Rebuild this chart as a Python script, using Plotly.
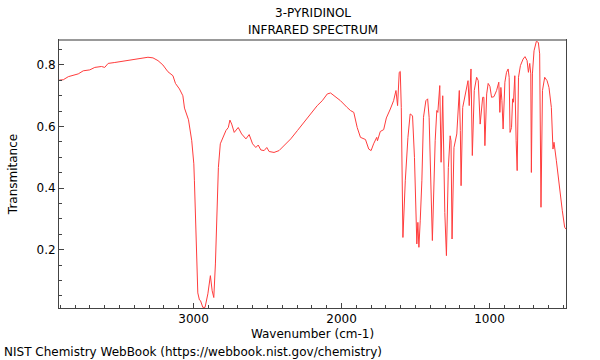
import plotly.graph_objects as go

wavenumber = [3907, 3880, 3846, 3812, 3779, 3745, 3701, 3667, 3622, 3600, 3577, 3532, 3454, 3409, 3353, 3308,
              3274, 3240, 3207, 3173, 3139, 3122, 3095, 3072, 3061, 3034, 3012, 2998, 2994, 2983, 2971, 2960,
              2953, 2937, 2922, 2903, 2886, 2874, 2863, 2852, 2841, 2832, 2819, 2803, 2781, 2765, 2754, 2742,
              2725, 2698, 2675, 2646, 2624, 2601, 2579, 2563, 2545, 2523, 2505, 2489, 2456, 2422, 2388, 2343,
              2298, 2254, 2209, 2164, 2130, 2096, 2074, 2040, 2007, 1962, 1939, 1917, 1894, 1872, 1838, 1816,
              1800, 1783, 1762, 1757, 1738, 1715, 1697, 1670, 1648, 1632, 1621, 1610, 1603, 1596, 1585, 1569,
              1551, 1536, 1520, 1507, 1491, 1484, 1477, 1468, 1457, 1446, 1430, 1418, 1408, 1386, 1367, 1356,
              1349, 1336, 1327, 1316, 1307, 1302, 1291, 1278, 1266, 1260, 1253, 1240, 1221, 1204, 1197, 1192,
              1181, 1161, 1145, 1137, 1125, 1116, 1103, 1087, 1076, 1063, 1046, 1038, 1031, 1019, 1009, 997,
              986, 970, 952, 937, 930, 923, 916, 908, 896, 885, 874, 867, 861, 851, 844, 838,
              829, 820, 813, 804, 791, 773, 760, 746, 737, 728, 721, 717, 710, 699, 683, 670,
              661, 652, 642, 627, 611, 598, 582, 571, 564, 548, 526, 508, 492, 483]

transmittance = [0.751, 0.752, 0.762, 0.766, 0.771, 0.781, 0.784, 0.792, 0.795, 0.792, 0.805, 0.808, 0.814, 0.819, 0.821, 0.825,
                 0.823, 0.814, 0.800, 0.778, 0.765, 0.740, 0.722, 0.700, 0.660, 0.622, 0.554, 0.479, 0.424, 0.262, 0.060, 0.037,
                 0.035, 0.013, 0.013, 0.057, 0.116, 0.067, 0.045, 0.154, 0.370, 0.467, 0.544, 0.565, 0.587, 0.597, 0.621, 0.608,
                 0.581, 0.597, 0.576, 0.560, 0.574, 0.544, 0.532, 0.540, 0.524, 0.522, 0.532, 0.519, 0.516, 0.522, 0.538, 0.560,
                 0.587, 0.614, 0.641, 0.668, 0.684, 0.706, 0.709, 0.695, 0.684, 0.662, 0.652, 0.646, 0.597, 0.565, 0.558, 0.527,
                 0.522, 0.544, 0.565, 0.554, 0.584, 0.590, 0.628, 0.657, 0.684, 0.717, 0.668, 0.776, 0.779, 0.662, 0.240, 0.424,
                 0.565, 0.641, 0.635, 0.500, 0.219, 0.289, 0.208, 0.294, 0.424, 0.630, 0.684, 0.690, 0.630, 0.230, 0.554, 0.652,
                 0.646, 0.733, 0.484, 0.700, 0.330, 0.321, 0.181, 0.467, 0.570, 0.554, 0.235, 0.532, 0.576, 0.717, 0.587, 0.408,
                 0.662, 0.717, 0.749, 0.668, 0.787, 0.506, 0.717, 0.760, 0.749, 0.608, 0.695, 0.695, 0.538, 0.706, 0.740, 0.730,
                 0.695, 0.697, 0.717, 0.744, 0.646, 0.727, 0.684, 0.592, 0.744, 0.776, 0.787, 0.760, 0.581, 0.597, 0.690, 0.679,
                 0.765, 0.554, 0.457, 0.760, 0.798, 0.819, 0.827, 0.814, 0.776, 0.805, 0.771, 0.451, 0.771, 0.846, 0.877, 0.873,
                 0.836, 0.338, 0.717, 0.760, 0.749, 0.727, 0.662, 0.527, 0.549, 0.489, 0.392, 0.327, 0.273, 0.267]

x_major_ticks = [1000, 2000, 3000]
y_major_ticks = [0.2, 0.4, 0.6, 0.8]
title_lines = ["3-PYRIDINOL", "INFRARED SPECTRUM"]

FONT = "DejaVu Sans"

fig = go.Figure()
fig.add_trace(go.Scatter(x=wavenumber, y=transmittance, mode="lines",
                         line=dict(color="rgb(255,60,60)", width=1), hoverinfo="skip"))

annotations = []
for text, py in zip(title_lines, [13, 30]):
    annotations.append(dict(text=text, xref="paper", yref="paper", x=0.5, y=1 + (40 - py) / 268,
                            xanchor="center", yanchor="middle", showarrow=False,
                            font=dict(family=FONT, size=12, color="black")))
annotations.append(dict(text="NIST Chemistry WebBook (https://webbook.nist.gov/chemistry)",
                        xref="paper", yref="paper", x=-57/509, y=-44/268, xanchor="left", yanchor="middle",
                        showarrow=False, font=dict(family=FONT, size=12, color="black")))

fig.update_layout(
    width=600, height=360,
    margin=dict(l=57, r=34, t=40, b=52),
    paper_bgcolor="white", plot_bgcolor="white",
    showlegend=False,
    font=dict(family=FONT, size=12, color="black"),
    xaxis=dict(range=[3909, 483], showgrid=False, zeroline=False,
               showline=True, linecolor="#444", linewidth=1, mirror=True,
               ticks="inside", ticklen=5, tickcolor="#444",
               tickvals=x_major_ticks, ticktext=[str(v) for v in x_major_ticks],
               minor=dict(ticks="inside", ticklen=3, tickcolor="#444", dtick=100, tick0=0),
               title=dict(text="Wavenumber (cm-1)", standoff=4, font=dict(size=12))),
    yaxis=dict(range=[0.011, 0.881], showgrid=False, zeroline=False,
               showline=True, linecolor="#444", linewidth=1, mirror=True,
               ticks="inside", ticklen=5, tickcolor="#444",
               tickvals=y_major_ticks, ticktext=[f"{v:.1f}" for v in y_major_ticks],
               minor=dict(ticks="inside", ticklen=3, tickcolor="#444", dtick=0.05, tick0=0),
               title=dict(text="Transmitance", standoff=16, font=dict(size=12))),
    shapes=[dict(type="line", xref="paper", yref="paper", x0=0, x1=1, y0=1, y1=1,
                 line=dict(color="#999", width=2))],
    annotations=annotations,
)

fig.write_html("out.html", config={"displayModeBar": False},
               post_script="document.body.style.margin='0';document.body.style.padding='0';")
